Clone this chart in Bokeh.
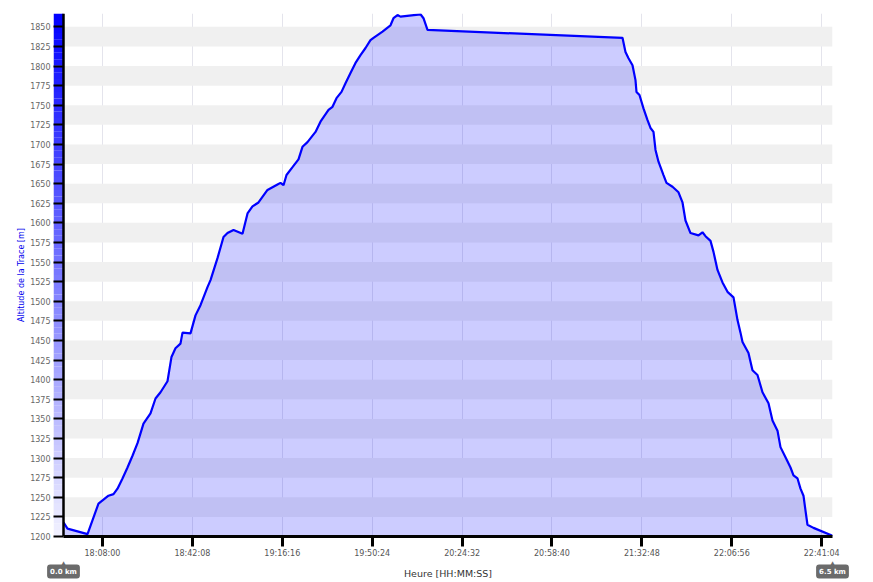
from bokeh.plotting import figure
from bokeh.layouts import column
from bokeh.models import FixedTicker, Span, Label, Range1d
from bokeh.core.properties import value
from bokeh.embed import file_html
from bokeh.resources import INLINE

# ---- data ----
times = [
    "17:53:12", "17:54:43", "18:02:19", "18:06:29", "18:08:23", "18:10:17", "18:12:11", "18:13:42",
    "18:15:36", "18:17:30", "18:19:24", "18:21:18", "18:23:34", "18:26:14", "18:28:08", "18:30:02",
    "18:32:41", "18:34:12", "18:35:43", "18:37:37", "18:38:23", "18:41:25", "18:43:19", "18:45:13",
    "18:47:52", "18:49:01", "18:51:40", "18:53:57", "18:55:28", "18:57:45", "19:01:10", "19:03:04",
    "19:04:57", "19:07:14", "19:10:39", "19:14:27", "19:15:35", "19:16:44", "19:17:52", "19:20:09",
    "19:22:25", "19:23:56", "19:25:50", "19:28:53", "19:30:46", "19:33:49", "19:35:20", "19:36:51",
    "19:38:45", "19:40:16", "19:42:10", "19:44:04", "19:45:58", "19:47:52", "19:49:45", "19:50:54",
    "19:54:19", "19:57:21", "19:58:29", "20:00:01", "20:01:09", "20:08:44", "20:09:53", "20:11:24",
    "21:25:26", "21:26:34", "21:27:43", "21:29:14", "21:30:22", "21:30:45", "21:31:53", "21:33:24",
    "21:34:56", "21:36:04", "21:37:12", "21:37:58", "21:39:06", "21:41:00", "21:42:08", "21:44:25",
    "21:46:42", "21:48:13", "21:49:21", "21:51:15", "21:54:17", "21:55:48", "21:56:57", "21:58:51",
    "21:59:59", "22:01:30", "22:03:24", "22:05:18", "22:07:35", "22:09:06", "22:10:14", "22:11:00",
    "22:13:16", "22:14:47", "22:16:41", "22:18:35", "22:20:52", "22:22:23", "22:24:17", "22:25:25",
    "22:27:19", "22:29:13", "22:30:21", "22:31:53", "22:33:01", "22:34:09", "22:34:55", "22:35:40",
    "22:37:57", "22:45:10",
]
altitudes = [
    1218, 1210, 1203, 1242, 1247, 1252, 1254, 1261,
    1274, 1288, 1303, 1319, 1344, 1357, 1376, 1384,
    1398, 1429, 1440, 1446, 1460, 1459, 1482, 1495,
    1518, 1527, 1555, 1582, 1587, 1591, 1586, 1612,
    1621, 1626, 1642, 1649, 1651, 1648, 1661, 1671,
    1681, 1697, 1703, 1716, 1729, 1744, 1748, 1759,
    1767, 1778, 1791, 1804, 1814, 1823, 1833, 1836,
    1844, 1852, 1861, 1865, 1863, 1866, 1861, 1846,
    1836, 1818, 1810, 1801, 1782, 1767, 1763, 1746,
    1731, 1721, 1716, 1693, 1678, 1661, 1651, 1646,
    1639, 1626, 1603, 1587, 1584, 1588, 1583, 1577,
    1563, 1540, 1524, 1512, 1505, 1476, 1460, 1448,
    1434, 1412, 1406, 1384, 1370, 1348, 1335, 1314,
    1301, 1288, 1278, 1274, 1261, 1252, 1233, 1215,
    1211, 1201,
]
x_tick_labels = ["18:08:00", "18:42:08", "19:16:16", "19:50:24", "20:24:32",
                 "20:58:40", "21:32:48", "22:06:56", "22:41:04"]
y_ticks = list(range(1200, 1851, 25))
distance_labels = ["0.0 km", "6.5 km"]
y_title = "Altitude de la Trace [m]"
x_title = "Heure [HH:MM:SS]"


def to_sec(s):
    h, m, sec = (int(v) for v in s.split(":"))
    return h * 3600 + m * 60 + sec


t = [to_sec(s) for s in times]
tick_pos = [to_sec(s) for s in x_tick_labels]
t0, t1 = t[0], t[-1]

# ---- layout constants (px) ----
W = 873
LEFT, RIGHT = 53, 41          # frame borders
TOP = 13
H_MAIN, H_FOOT = 560, 22
FRAME_BOTTOM = 536
BAR_PX = 10                   # gradient bar width left of axis line
FRAME_W = W - LEFT - RIGHT

Y_MIN, Y_MAX = 1200, 1867
sec_per_px = (t1 - t0) / (FRAME_W - BAR_PX)
x_start = t0 - BAR_PX * sec_per_px

FONT = "DejaVu Sans"

p = figure(width=W, height=H_MAIN, output_backend="svg", toolbar_location=None,
           x_range=Range1d(x_start, t1), y_range=Range1d(Y_MIN, Y_MAX),
           min_border_left=LEFT, min_border_right=RIGHT, min_border_top=TOP,
           min_border_bottom=H_MAIN - FRAME_BOTTOM, frame_align=False)
p.outline_line_color = None
p.background_fill_color = "white"

# grids
p.xgrid.ticker = FixedTicker(ticks=tick_pos)
p.xgrid.grid_line_color = "#e4e4ec"
p.xgrid.grid_line_width = 1
p.ygrid.ticker = FixedTicker(ticks=y_ticks)
p.ygrid.grid_line_color = None
p.ygrid.band_fill_color = "#f0f0f0"
p.ygrid.band_fill_alpha = 1.0

# gradient bar left of the y axis line
n = 80
step = (Y_MAX - Y_MIN) / n
bottoms = [Y_MIN + i * step for i in range(n)]
tops = [b + step for b in bottoms]
cols = []
for i in range(n):
    f = (i + 0.5) / n  # 0 bottom -> 1 top
    c = int(round(242 * (1 - f)))
    cols.append("#%02x%02xff" % (c, c))
p.quad(left=x_start, right=t0, bottom=bottoms, top=tops, fill_color=cols, line_color=None)

# area + line
p.varea(x=t, y1=Y_MIN, y2=altitudes, fill_color="#0000ff", fill_alpha=0.2)
p.line(t, altitudes, line_color="#0000ff", line_width=2.2)

# y axis line
p.add_layout(Span(location=t0, dimension="height", line_color="black", line_width=2.5))

# axes
xa = p.xaxis[0]
xa.ticker = FixedTicker(ticks=tick_pos)
xa.major_label_overrides = {tp: lab for tp, lab in zip(tick_pos, x_tick_labels)}
xa.bounds = (t0, t1)
xa.axis_line_color = "black"
xa.axis_line_width = 3
xa.major_tick_line_color = "black"
xa.major_tick_line_width = 3
xa.major_tick_in = 0
xa.major_tick_out = 10
xa.minor_tick_line_color = None
xa.major_label_standoff = 2
xa.major_label_text_font = FONT
xa.major_label_text_font_size = "8px"
xa.major_label_text_color = "#555555"

ya = p.yaxis[0]
ya.ticker = FixedTicker(ticks=y_ticks)
ya.axis_line_color = None
ya.major_tick_line_color = "black"
ya.major_tick_line_width = 2
ya.major_tick_in = 10
ya.major_tick_out = 0
ya.minor_tick_line_color = None
ya.major_label_standoff = 3
ya.major_label_text_font = FONT
ya.major_label_text_font_size = "8px"
ya.major_label_text_color = "#666666"
ya.axis_label = y_title
ya.axis_label_text_font = FONT
ya.axis_label_text_font_size = "8px"
ya.axis_label_text_font_style = "normal"
ya.axis_label_text_color = "#0000ee"
ya.axis_label_standoff = 1

# ---- footer: x axis title and distance markers ----
x_lo = x_start - LEFT * sec_per_px
x_hi = t1 + RIGHT * sec_per_px
foot = figure(width=W, height=H_FOOT, output_backend="svg", toolbar_location=None,
              x_range=Range1d(x_lo, x_hi), y_range=Range1d(0, H_FOOT),
              min_border_left=0, min_border_right=0, min_border_top=0, min_border_bottom=0,
              frame_align=False)
foot.axis.visible = False
foot.grid.visible = False
foot.outline_line_color = None

foot.text(x=[(t0 + t1) / 2], y=[9], text=[x_title], text_align="center",
          text_baseline="middle", text_font=value(FONT), text_font_size="9.5px",
          text_color="#333333")
for xpos, txt in zip([t0, t1], distance_labels):
    foot.text(x=[xpos], y=[20], text=["\u25b2"], text_align="center", text_baseline="middle",
              text_font=value(FONT), text_font_size="6px", text_color="#6b6b6b")
    foot.add_layout(Label(x=xpos, y=11, text=txt,
                          text_align="center", text_baseline="middle",
                          text_font=FONT, text_font_size="7px", text_font_style="bold",
                          text_color="white", background_fill_color="#6b6b6b",
                          border_radius=3, padding=3))

layout = column(p, foot, spacing=0)
open("out.html", "w").write(file_html(layout, INLINE))
